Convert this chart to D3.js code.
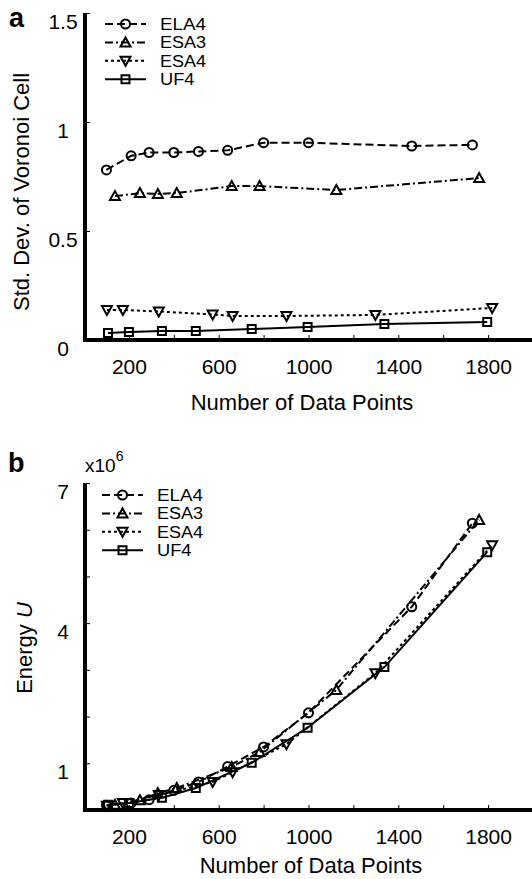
<!DOCTYPE html>
<html>
<head>
<meta charset="utf-8">
<script src="https://cdn.jsdelivr.net/npm/d3@7"></script>
<style>
  html, body { margin: 0; padding: 0; background: #fff; }
  svg { display: block; font-family: "Liberation Sans", Arial, Helvetica, sans-serif; }
</style>
</head>
<body>
<script>
// ---------------- DATA ----------------
const seriesNames = ["ELA4", "ESA3", "ESA4", "UF4"];

// Number of data points for each series
const ela4N = [100, 210, 290, 400, 510, 640, 800, 1000, 1460, 1730];
const esa3N = [138, 249, 329, 413, 658, 782, 1124, 1760];
const esa4N = [102, 173, 333, 573, 662, 902, 1298, 1818];
const uf4N  = [107, 200, 347, 498, 747, 996, 1338, 1796];

// Panel a: std. dev. of Voronoi cell
const ela4Std = [0.78, 0.845, 0.86, 0.86, 0.865, 0.87, 0.905, 0.905, 0.89, 0.895];
const esa3Std = [0.66, 0.674, 0.67, 0.674, 0.706, 0.706, 0.688, 0.743];
const esa4Std = [0.138, 0.138, 0.131, 0.117, 0.11, 0.11, 0.115, 0.147];
const uf4Std  = [0.032, 0.037, 0.041, 0.041, 0.05, 0.06, 0.073, 0.083];

// Panel b: energy U (x10^6)
const ela4Energy = [0.10, 0.15, 0.22, 0.42, 0.60, 0.93, 1.35, 2.08, 4.35, 6.14];
const esa3Energy = [0.11, 0.21, 0.36, 0.47, 0.92, 1.24, 2.57, 6.21];
const esa4Energy = [0.09, 0.15, 0.32, 0.60, 0.81, 1.41, 2.93, 5.67];
const uf4Energy  = [0.11, 0.15, 0.26, 0.47, 1.01, 1.76, 3.06, 5.52];

// Ticks
const xTickValues = [200, 400, 600, 800, 1000, 1200, 1400, 1600, 1800, 2000];
const xTickLabels = [200, 600, 1000, 1400, 1800];
const yTicksA = [0, 0.5, 1, 1.5];
const yTickLabelsA = ["0", "0.5", "1", "1.5"];
const yTicksB = [1, 2, 3, 4, 5, 6, 7];
const yTickLabelsB = [1, 4, 7];

// ---------------- STYLES ----------------
const styles = {
  ELA4: { dash: "8,4", marker: "circle" },
  ESA3: { dash: "8,3,2,3", marker: "triangleUp" },
  ESA4: { dash: "3,3", marker: "triangleDown" },
  UF4:  { dash: null, marker: "square" }
};

const W = 532, H = 879;
const svg = d3.select("body").append("svg").attr("width", W).attr("height", H);

function markerPath(type) {
  if (type === "circle") return d3.symbol(d3.symbolCircle, 64)();
  if (type === "square") return "M-4,-4H4V4H-4Z";
  if (type === "triangleUp") return "M0,-5L5,4H-5Z";
  if (type === "triangleDown") return "M0,5L5,-4H-5Z";
}

function drawPanel(cfg) {
  const x = d3.scaleLinear().domain([0, 2000]).range([84, 533]);
  const y = d3.scaleLinear().domain(cfg.yDomain).range([cfg.bottom, cfg.top]);
  const g = svg.append("g");

  // x axis
  const xa = g.append("g").attr("transform", `translate(0,${cfg.bottom})`)
    .call(d3.axisBottom(x).tickValues(xTickValues).tickSizeInner(-5).tickSizeOuter(0)
      .tickFormat(d => xTickLabels.includes(d) ? d : ""));
  xa.select(".domain").attr("stroke", "#000").attr("stroke-width", 4)
    .attr("d", `M${x(0) - 1},0H${x(2000)}`);
  xa.selectAll(".tick line").attr("stroke", "#000").attr("stroke-width", 1);
  xa.selectAll(".tick text").attr("y", 34).attr("dy", 0)
    .attr("font-size", 21).attr("fill", "#000").attr("font-family", null);

  // y axis
  const ya = g.append("g").attr("transform", `translate(85,0)`)
    .call(d3.axisLeft(y).tickValues(cfg.yTicks).tickSizeInner(-5).tickSizeOuter(0)
      .tickFormat(cfg.yFormat));
  ya.select(".domain").attr("stroke", "#000").attr("stroke-width", 4)
    .attr("d", `M0,${y(cfg.yDomain[1])}V${cfg.bottom + 2}`);
  ya.selectAll(".tick line").attr("stroke", "#000").attr("stroke-width", 1);
  ya.selectAll(".tick text").attr("x", -22).attr("dy", 0).attr("y", 15)
    .attr("text-anchor", "middle").attr("font-size", 21).attr("fill", "#000")
    .attr("font-family", null);

  // series
  const line = d3.line().x(d => x(d[0])).y(d => y(d[1]));
  cfg.series.forEach(s => {
    const st = styles[s.name];
    const pts = s.n.map((n, i) => [n, s.v[i]]);
    g.append("path").datum(pts).attr("d", line)
      .attr("fill", "none").attr("stroke", "#000").attr("stroke-width", 2)
      .attr("stroke-dasharray", st.dash);
    g.selectAll(null).data(pts).enter().append("path")
      .attr("d", markerPath(st.marker))
      .attr("transform", d => `translate(${x(d[0])},${y(d[1])})`)
      .attr("fill", "none").attr("stroke", "#000").attr("stroke-width", 2);
  });

  // legend
  const lg = g.append("g");
  seriesNames.forEach((name, i) => {
    const st = styles[name];
    const ly = cfg.legendY + i * cfg.legendStep;
    lg.append("line").attr("x1", cfg.legendX).attr("x2", cfg.legendX + 41)
      .attr("y1", ly).attr("y2", ly).attr("stroke", "#000").attr("stroke-width", 2)
      .attr("stroke-dasharray", st.dash);
    lg.append("path").attr("d", markerPath(st.marker))
      .attr("transform", `translate(${cfg.legendX + 20.5},${ly})`)
      .attr("fill", "none").attr("stroke", "#000").attr("stroke-width", 2);
    lg.append("text").attr("x", cfg.legendX + 55).attr("y", ly + 6)
      .attr("font-size", 16).attr("textLength", name.length * 11.5)
      .attr("lengthAdjust", "spacingAndGlyphs").text(name);
  });

  // x title
  g.append("text").attr("x", cfg.xTitleX).attr("y", cfg.xTitleY)
    .attr("text-anchor", "middle").attr("font-size", 22).text("Number of Data Points");

  // panel letter
  g.append("text").attr("x", cfg.letterX).attr("y", cfg.letterY)
    .attr("font-size", 27).attr("font-weight", "bold").text(cfg.letter);
  return { g, x, y };
}

// Panel a
const pa = drawPanel({
  top: 13, bottom: 340, yDomain: [0, 1.5], yTicks: yTicksA,
  yFormat: d => yTickLabelsA[yTicksA.indexOf(d)],
  series: [
    { name: "ELA4", n: ela4N, v: ela4Std },
    { name: "ESA3", n: esa3N, v: esa3Std },
    { name: "ESA4", n: esa4N, v: esa4Std },
    { name: "UF4",  n: uf4N,  v: uf4Std }
  ],
  legendX: 105, legendY: 24, legendStep: 18.4,
  xTitleX: 302, xTitleY: 410, letter: "a", letterX: 9, letterY: 27
});
pa.g.append("text").attr("transform", "translate(29,192) rotate(-90)")
  .attr("text-anchor", "middle").attr("font-size", 22).text("Std. Dev. of Voronoi Cell");

// Panel b
const pb = drawPanel({
  top: 483, bottom: 810, yDomain: [0, 7], yTicks: yTicksB,
  yFormat: d => yTickLabelsB.includes(d) ? d : "",
  series: [
    { name: "ELA4", n: ela4N, v: ela4Energy },
    { name: "ESA3", n: esa3N, v: esa3Energy },
    { name: "ESA4", n: esa4N, v: esa4Energy },
    { name: "UF4",  n: uf4N,  v: uf4Energy }
  ],
  legendX: 102, legendY: 495, legendStep: 18.4,
  xTitleX: 311, xTitleY: 873, letter: "b", letterX: 8, letterY: 472
});
const yl = pb.g.append("text").attr("transform", "translate(32,648) rotate(-90)")
  .attr("text-anchor", "middle").attr("font-size", 22);
yl.append("tspan").text("Energy ");
yl.append("tspan").attr("font-style", "italic").text("U");

const mult = pb.g.append("text").attr("x", 85).attr("y", 472).attr("font-size", 19);
mult.append("tspan").text("x10");
mult.append("tspan").attr("font-size", 14).attr("dy", -11).text("6");
</script>
</body>
</html>
